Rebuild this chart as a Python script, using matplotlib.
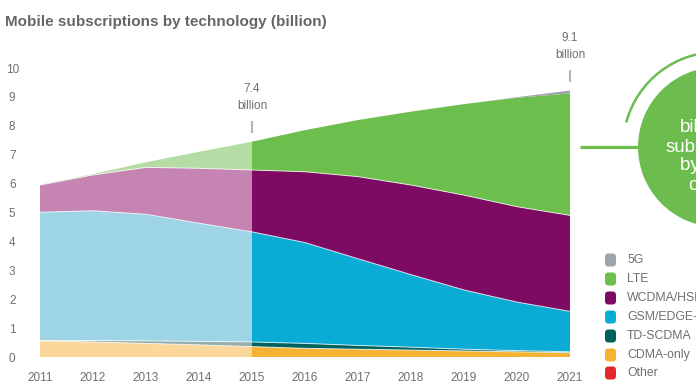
import matplotlib
matplotlib.use("Agg")
import matplotlib.pyplot as plt
from matplotlib.patches import Circle, Arc, FancyBboxPatch
import numpy as np

plt.rcParams['font.family'] = ['Liberation Sans', 'DejaVu Sans']

years = [2011, 2012, 2013, 2014, 2015, 2016, 2017, 2018, 2019, 2020, 2021]
other = [0.0, 0.0, 0.0, 0.0, 0.0, 0.0, 0.0, 0.0, 0.0, 0.0, 0.0]
cdma = [0.56, 0.52, 0.47, 0.42, 0.36, 0.30, 0.27, 0.24, 0.21, 0.18, 0.15]
td_scdma = [0.01, 0.05, 0.09, 0.12, 0.16, 0.17, 0.13, 0.10, 0.06, 0.04, 0.03]
gsm = [4.44, 4.49, 4.38, 4.09, 3.81, 3.49, 3.00, 2.51, 2.05, 1.68, 1.40]
wcdma = [0.94, 1.24, 1.62, 1.90, 2.14, 2.45, 2.84, 3.10, 3.28, 3.30, 3.32]
lte = [0.01, 0.03, 0.18, 0.57, 0.98, 1.44, 1.96, 2.54, 3.15, 3.77, 4.22]
g5 = [0.0, 0.0, 0.0, 0.0, 0.0, 0.0, 0.0, 0.0, 0.0, 0.02, 0.10]

series_names = ["Other", "CDMA-only", "TD-SCDMA", "GSM/EDGE-only", "WCDMA/HSPA", "LTE", "5G"]
dark_colors = ["#e5262b", "#f5b335", "#00625c", "#0aabd4", "#7d0a63", "#6cbf4c", "#9ba6a9"]
light_colors = ["#f19a9c", "#fbd79a", "#93aeac", "#9dd4e6", "#c584b1", "#b5dca5", "#c9d0d2"]

legend_labels = ["5G", "LTE", "WCDMA/HSPA", "GSM/EDGE-only", "TD-SCDMA", "CDMA-only", "Other"]
legend_colors = ["#9ba6a9", "#6cbf4c", "#7d0a63", "#0aabd4", "#00625c", "#f5b335", "#e5262b"]

callout_years = [2015, 2021]
callout_labels = ["7.4", "9.1"]
yticks = list(range(0, 11))

title = "Mobile subscriptions by technology (billion)"

W, H = 696, 391
fig = plt.figure(figsize=(W / 100, H / 100), dpi=100)

x0, x1 = 40, 570
y0, y10 = 357, 68
ax = fig.add_axes([x0 / W, (H - y0) / H, (x1 - x0) / W, (y0 - y10) / H])

stack = [other, cdma, td_scdma, gsm, wcdma, lte, g5]
yrs = np.array(years)
data = np.array(stack)
split = years.index(2015)
ax.stackplot(yrs[:split + 1], data[:, :split + 1], colors=light_colors, linewidth=0)
ax.stackplot(yrs[split:], data[:, split:], colors=dark_colors, linewidth=0)
cum = np.cumsum(data, axis=0)
for i in range(1, 5):
    ax.plot(yrs, cum[i], color="white", lw=0.7, alpha=0.75)

ax.set_xlim(2011, 2021)
ax.set_ylim(0, 10)
for s in ax.spines.values():
    s.set_visible(False)
ax.set_yticks(yticks)
ax.set_xticks(years)
ax.tick_params(axis="both", length=0, colors="#6f6f6f", labelsize=8.5)
ax.tick_params(axis="y", pad=20)
ax.tick_params(axis="x", pad=11)
for lab in ax.get_yticklabels():
    lab.set_ha("center")
ax.patch.set_alpha(0)

# overlay in pixel coords
ov = fig.add_axes([0, 0, 1, 1], zorder=5)
ov.set_xlim(0, W)
ov.set_ylim(H, 0)
ov.axis("off")
ov.patch.set_alpha(0)

ov.text(5, 22, title, fontsize=11, fontweight="bold", color="#666666", va="center", ha="left")

# callouts
for yr, lab in zip(callout_years, callout_labels):
    idx = years.index(yr)
    px = x0 + (yr - 2011) / 10 * (x1 - x0)
    top_px = y0 - cum[-1][idx] / 10 * (y0 - y10)
    ov.plot([px, px], [top_px - 21, top_px - 9], color="#b5b5b5", lw=1.5, solid_capstyle="butt")
    ov.text(px, top_px - 36, "billion", ha="center", va="center", fontsize=8.5, color="#6f6f6f")
    ov.text(px, top_px - 53, lab, ha="center", va="center", fontsize=8.5, color="#6f6f6f")

# big circle
green = "#6cbd4e"
ov.add_patch(Circle((718, 147), 80, color=green, lw=0))
ov.add_patch(Arc((718, 147), 190, 190, theta1=195, theta2=270, color=green, lw=1.8))
ov.plot([580, 640], [147, 147], color=green, lw=2.3, solid_capstyle="butt")
fs_c = 13.5
ov.text(680, 127, "billion", color="white", fontsize=fs_c, va="center", ha="left")
ov.text(666, 147, "subscriptions", color="white", fontsize=fs_c, va="center", ha="left")
ov.text(680, 166, "by end", color="white", fontsize=fs_c, va="center", ha="left")
ov.text(688, 186, "coverage", color="white", fontsize=fs_c, va="center", ha="left")

# legend
ly = [260, 279, 298, 317, 336, 355, 373]
for lab, col, yy in zip(legend_labels, legend_colors, ly):
    ov.add_patch(FancyBboxPatch((605, yy - 6.5), 11, 13, boxstyle="round,pad=0,rounding_size=3.5",
                                color=col, lw=0))
    ov.text(627, yy, lab, fontsize=8.8, color="#6f6f6f", va="center", ha="left")

fig.savefig("out.png", dpi=100)
